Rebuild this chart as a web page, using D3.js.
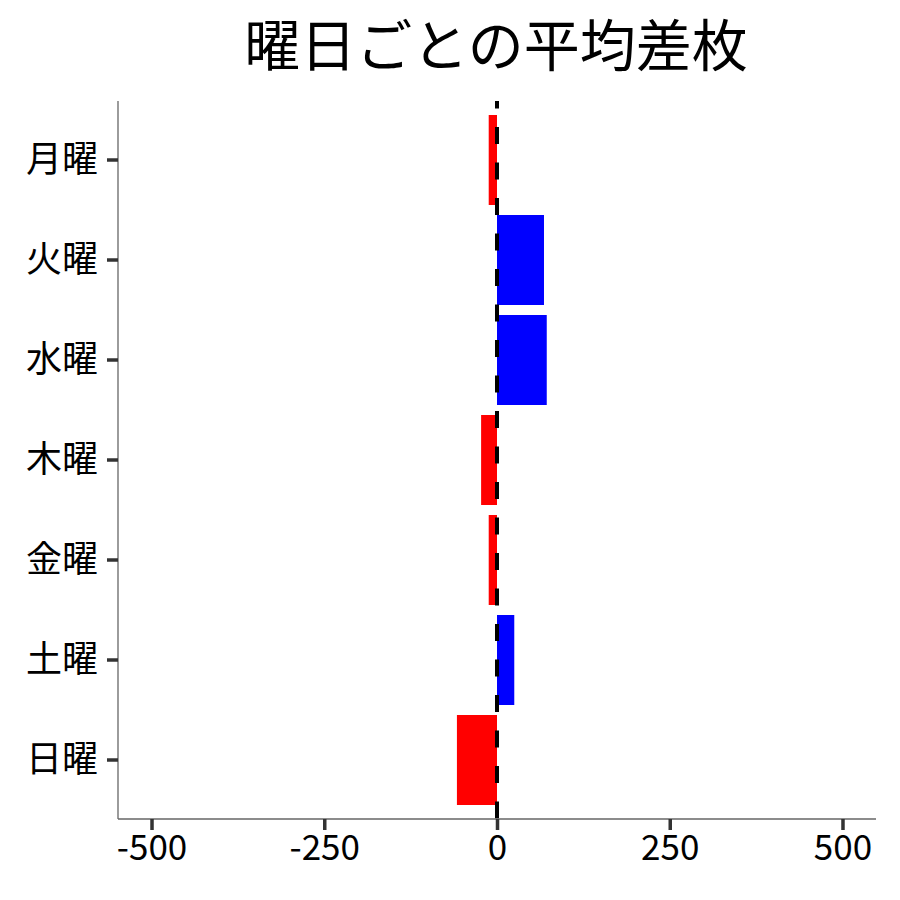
<!DOCTYPE html>
<html><head><meta charset="utf-8">
<script src="https://cdn.jsdelivr.net/npm/d3@7"></script>
<style>body{margin:0;background:#fff}svg{display:block}</style>
</head><body>
<script>
const days = ["月曜","火曜","水曜","木曜","金曜","土曜","日曜"];
const values = [-12, 68, 72, -23, -12, 25, -58];
const xTicks = [-500, -250, 0, 250, 500];
const title = "曜日ごとの平均差枚";

const W = 900, H = 900;
const font = "'Noto Sans CJK JP','Noto Sans',sans-serif";
const svg = d3.select("body").append("svg").attr("width", W).attr("height", H);

const x = d3.scaleLinear().domain([-548.5, 548.5]).range([118, 876]);
const y = d3.scaleBand().domain(days).range([110, 810]).paddingInner(0.1).paddingOuter(0.05);

svg.append("text").attr("x", 496).attr("y", 66).attr("text-anchor", "middle")
  .attr("font-family", font).attr("font-size", 56).attr("fill", "#000").text(title);

svg.selectAll("rect.bar").data(days).enter().append("rect").attr("class","bar")
  .attr("x", (d,i) => x(Math.min(0, values[i])))
  .attr("width", (d,i) => Math.abs(x(values[i]) - x(0)))
  .attr("y", d => y(d)).attr("height", y.bandwidth())
  .attr("fill", (d,i) => values[i] < 0 ? "#ff0000" : "#0000ff");

svg.append("line").attr("x1", x(0)).attr("x2", x(0)).attr("y1", 101).attr("y2", 819)
  .attr("stroke", "#000").attr("stroke-width", 4)
  .attr("stroke-dasharray", "17,18.5").attr("stroke-dashoffset", 9.5);

// axes
const xAxis = svg.append("g").attr("transform", "translate(0,819)")
  .call(d3.axisBottom(x).tickValues(xTicks).tickSize(11).tickPadding(5).tickFormat(d => String(d)));
xAxis.select(".domain").attr("d", "M118,0H876").attr("stroke", "#666").attr("stroke-width", 1.3);
xAxis.selectAll(".tick line").attr("stroke", "#333").attr("stroke-width", 3.5);
xAxis.selectAll(".tick text").attr("font-family", font).attr("font-size", 35).attr("fill", "#000");

const yAxis = svg.append("g").attr("transform", "translate(118,0)")
  .call(d3.axisLeft(y).tickSize(11).tickPadding(9));
yAxis.select(".domain").attr("d", "M0,101V819").attr("stroke", "#666").attr("stroke-width", 1.3);
yAxis.selectAll(".tick line").attr("stroke", "#333").attr("stroke-width", 3.5);
yAxis.selectAll(".tick text").attr("font-family", font).attr("font-size", 36).attr("fill", "#000");
</script>
</body></html>
